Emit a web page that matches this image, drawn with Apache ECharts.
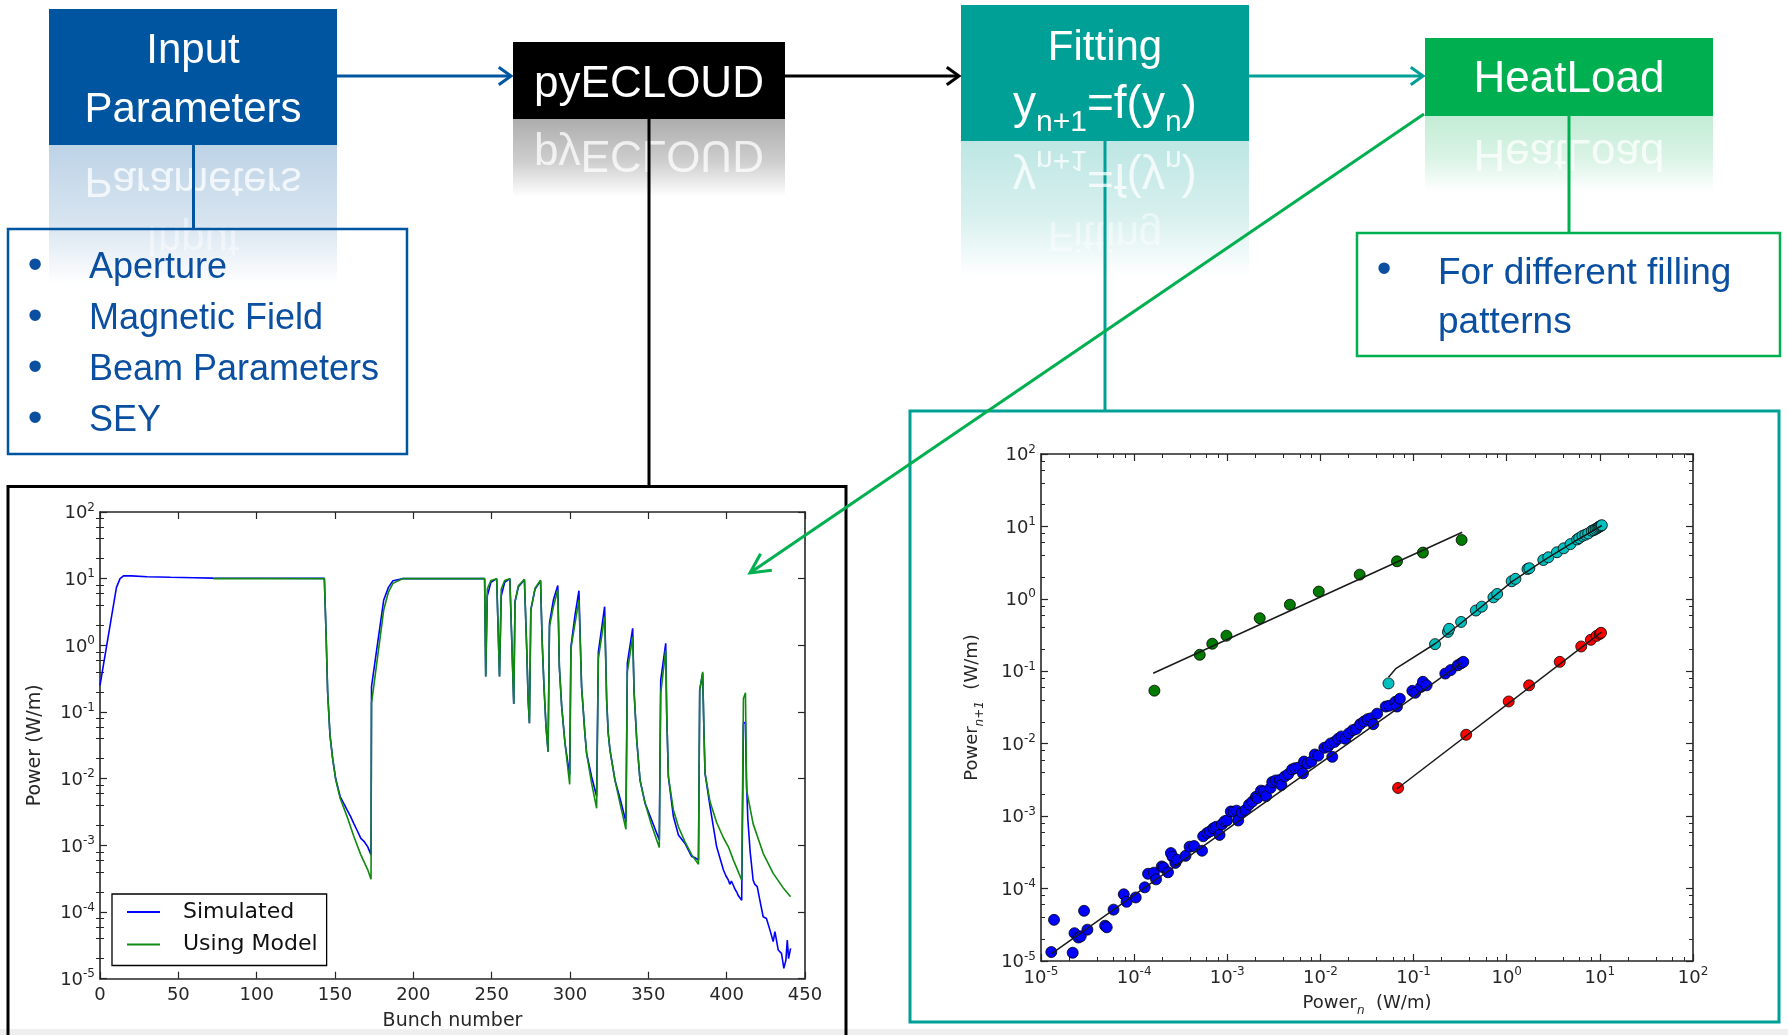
<!DOCTYPE html>
<html><head><meta charset="utf-8">
<script src="https://cdn.jsdelivr.net/npm/echarts@6/dist/echarts.min.js"></script>
<style>html,body{margin:0;padding:0;background:#fff}#c{width:1788px;height:1035px}</style>
</head><body><div id="c"></div>
<script>
// ---------------- Left chart: power vs bunch number ----------------
const simBunch = [0,10.5,12.8,15,20,30,45,60,72,100,143.2,144.3,145.3,146.8,148.5,150.5,153.3,157.7,160,162.1,164,166.5,168.5,170.9,173.0,173.3,177,181.1,184.1,187,193,245.5,246.2,247.2,249.5,253.2,254.4,255.0,256.1,258.3,261.6,262.6,264.1,264.9,267,270.9,271.4,272.4,273.3,274.1,275.0,277.7,281.2,282.2,283.4,284.7,286.0,286.9,289.4,292.2,293.2,294.7,296.8,299.8,300.6,303.2,305.7,307.4,309.5,310.6,313.8,317.0,318.1,320.2,322.1,323.4,324.4,325.5,328.7,331.9,335.7,336.6,340.0,340.9,342.6,344.7,347.9,352.1,357.0,357.9,361.1,361.7,362.8,366.0,369.2,373.4,377.7,380,382.0,382.8,384.7,385.5,386.2,389.4,393.6,397.9,399.5,401.1,402,403,404.3,405.3,406.4,407.5,408.5,409.6,410.7,412.0,412.6,413.5,415,416.9,418,419.5,421.2,423.3,425.4,427.6,429.7,430.8,432.9,435.0,436.5,437.8,438.7,439.5,440.8];
const simPower = [0.25,7.4,10.0,11.0,11.0,10.7,10.5,10.35,10.2,10.15,10.1,1.5,0.2,0.045,0.02,0.0098,0.0054,0.0034,0.0027,0.0021,0.0017,0.00127,0.00115,0.00095,0.00072,0.24,1.0,4.8,7.4,9.3,10.0,10.0,0.34,5.5,8.8,10.0,10.0,0.34,5.5,8.8,10.0,10.0,0.132,4.5,7.5,9.6,9.6,0.85,0.15,0.068,3.4,7.0,9.3,1.2,0.24,0.06,0.0254,2.14,4.8,7.9,0.48,0.12,0.034,0.0113,0.95,2.85,6.6,0.24,0.048,0.024,0.0107,0.0054,0.80,1.8,3.8,0.15,0.048,0.027,0.0095,0.0051,0.00226,0.54,1.8,0.2,0.038,0.0095,0.0043,0.0024,0.0012,0.30,1.07,0.1,0.0107,0.0027,0.00143,0.00107,0.00068,0.00065,0.0006,0.214,0.38,0.05,0.012,0.0038,0.00095,0.00043,0.00035,0.0003,0.00026,0.00029,0.00025,0.00022,0.0002,0.000175,0.00018,0.00015,0.068,0.07,0.01,0.0025,0.0008,0.0003,0.00026,0.00024,0.00015,0.000085,0.00008,0.000054,0.000036,0.000051,0.000027,0.000024,0.0000143,0.000019,0.000038,0.00002,0.0000285];
const modelBunch = [72.3,143.2,144.3,145.3,146.8,148.5,150.5,153.3,157.7,162.1,166.5,170.9,173.0,173.3,177,181.1,184.1,187,193,245.5,246.2,247.2,249.5,253.2,254.4,255.0,256.1,258.3,261.6,262.6,264.1,264.9,267,270.9,271.4,272.4,273.3,274.1,275.0,277.7,281.2,282.2,283.4,284.7,286.0,286.9,289.4,292.2,293.2,294.7,296.8,299.8,300.6,303.2,305.7,307.4,309.5,310.6,313.8,317.0,318.1,320.2,322.1,323.4,324.4,325.5,328.7,331.9,335.7,336.6,340.0,340.9,342.6,344.7,347.9,352.1,357.0,357.9,361.1,361.7,362.8,366.0,369.2,373.4,377.7,382.0,382.8,384.7,385.5,386.2,389.4,393.6,397.9,401.1,404.3,406.4,409.6,410.7,412.0,412.7,416.9,423.3,429.7,436.1,440.8];
const modelPower = [10.0,10.0,1.5,0.2,0.045,0.02,0.0095,0.0051,0.0027,0.00135,0.00072,0.00043,0.00031,0.135,0.62,3.4,6.3,8.5,10.0,10.0,0.34,7.0,9.4,10.0,10.0,0.34,7.0,9.4,10.0,10.0,0.132,4.5,7.8,9.8,9.7,0.85,0.15,0.068,3.4,7.2,9.5,1.2,0.24,0.06,0.0254,1.9,3.8,6.8,0.48,0.12,0.034,0.0082,0.9,2.14,4.8,0.24,0.048,0.024,0.0085,0.0036,0.64,1.35,2.7,0.15,0.048,0.027,0.0095,0.0043,0.00174,0.40,1.35,0.2,0.038,0.0095,0.0043,0.002,0.00093,0.19,0.85,0.1,0.0107,0.0034,0.0019,0.00113,0.00072,0.00052,0.214,0.40,0.05,0.012,0.0045,0.0022,0.0013,0.00095,0.0006,0.00046,0.0003,0.16,0.195,0.0068,0.0021,0.00076,0.00038,0.00023,0.00017];

// ---------------- Right chart: Power_{n+1} vs Power_n ----------------
const greenPn  = [1.65e-4,5.06e-4,6.9e-4,9.8e-4,2.23e-3,4.7e-3,9.6e-3,0.0264,0.0664,0.126,0.328];
const greenPn1 = [0.054,0.169,0.24,0.31,0.54,0.83,1.26,2.16,3.3,4.35,6.5];
const cyanPn  = [0.0538,0.170,0.234,0.241,0.324,0.466,0.540,0.720,0.790,1.13,1.24,1.67,1.75,2.47,2.80,3.46,4.09,4.84,5.70,6.0,6.5,7.0,7.5,8.2,8.6,9.0,9.4,9.7,10.0,10.3,10.5];
const cyanPn1 = [0.068,0.237,0.350,0.386,0.480,0.690,0.780,1.05,1.17,1.75,1.89,2.58,2.65,3.44,3.75,4.40,4.99,5.70,6.60,6.9,7.4,7.7,8.0,8.7,8.9,9.2,9.5,9.8,10.0,10.2,10.4];
const bluePn = [1.29e-5,1.38e-5,2.19e-5,2.29e-5,2.52e-5,2.67e-5,2.90e-5,3.15e-5,4.88e-5,5.08e-5,6.01e-5,7.74e-5,8.30e-5,1.04e-4,1.30e-4,1.41e-4,1.63e-4,1.72e-4,1.98e-4,2.07e-4,2.31e-4,2.48e-4,2.58e-4,2.77e-4,2.89e-4,3.56e-4,3.94e-4,4.40e-4,5.36e-4,5.51e-4,6.07e-4,6.52e-4,7.08e-4,7.60e-4,8.26e-4,8.75e-4,9.38e-4,9.91e-4,1.09e-3,1.17e-3,1.26e-3,1.31e-3,1.43e-3,1.57e-3,1.71e-3,1.86e-3,2.03e-3,2.11e-3,2.30e-3,2.47e-3,2.61e-3,2.92e-3,3.04e-3,3.31e-3,3.65e-3,3.81e-3,4.14e-3,4.51e-3,4.97e-3,5.33e-3,5.87e-3,6.49e-3,6.67e-3,7.26e-3,8.00e-3,8.71e-3,9.46e-3,1.10e-2,1.20e-2,1.29e-2,1.34e-2,1.42e-2,1.55e-2,1.68e-2,1.85e-2,2.02e-2,2.23e-2,2.42e-2,2.67e-2,2.94e-2,3.21e-2,3.48e-2,3.69e-2,4.06e-2,5.02e-2,5.46e-2,6.37e-2,6.64e-2,7.13e-2,9.70e-2,0.104,0.120,0.126,0.138,0.219,0.251,0.298,0.324,0.342];
const bluePn1 = [1.33e-5,3.70e-5,1.30e-5,2.42e-5,2.11e-5,2.19e-5,4.93e-5,2.71e-5,3.07e-5,2.92e-5,5.12e-5,8.34e-5,6.57e-5,7.54e-5,1.04e-4,1.60e-4,1.66e-4,1.34e-4,2.02e-4,1.95e-4,1.68e-4,3.09e-4,2.76e-4,2.26e-4,2.50e-4,2.83e-4,3.78e-4,3.87e-4,3.33e-4,5.28e-4,5.85e-4,6.15e-4,6.79e-4,7.14e-4,5.50e-4,7.69e-4,8.51e-4,8.71e-4,1.16e-3,1.15e-3,1.19e-3,8.71e-4,1.12e-3,1.22e-3,1.44e-3,1.59e-3,1.85e-3,1.78e-3,2.25e-3,2.20e-3,1.89e-3,2.46e-3,2.96e-3,3.11e-3,3.15e-3,2.68e-3,3.53e-3,3.80e-3,4.42e-3,4.59e-3,4.70e-3,3.90e-3,5.67e-3,5.33e-3,5.67e-3,7.10e-3,6.84e-3,8.79e-3,9.12e-3,1.01e-2,6.59e-3,1.06e-2,1.17e-2,1.26e-2,1.17e-2,1.39e-2,1.54e-2,1.60e-2,1.86e-2,2.03e-2,2.18e-2,2.24e-2,1.86e-2,2.60e-2,3.26e-2,3.34e-2,3.79e-2,3.26e-2,4.18e-2,5.37e-2,5.05e-2,6.08e-2,7.16e-2,6.40e-2,9.30e-2,0.104,0.121,0.129,0.135];
const redPn  = [0.0682,0.367,1.05,1.74,3.71,6.31,8.0,9.2,10.0,10.3];
const redPn1 = [2.45e-3,1.33e-2,3.83e-2,6.40e-2,0.135,0.220,0.272,0.308,0.328,0.34];
const greenFitPn = [1.6e-4,0.333],  greenFitPn1 = [0.094,8.3];
const cyanFitPn  = [0.0538,0.065,0.17,0.47,1.13,2.5,5.7,10.5], cyanFitPn1 = [0.083,0.11,0.24,0.68,1.72,3.4,6.5,10.3];
const blueFitPn  = [1.29e-5,0.33], blueFitPn1 = [1.25e-5,0.131];
const redFitPn   = [0.066,10.5],   redFitPn1  = [2.37e-3,0.35];

// ticks
const minorMult = [2,4,6,8];
const decadeExp = [-5,-4,-3,-2,-1,0,1];
const bunchTickStep = 50;

const zip = (a,b) => a.map((v,i)=>[v,b[i]]);
const minorTicks = [];
decadeExp.forEach(d => minorMult.forEach(m => minorTicks.push(+(m*Math.pow(10,d)).toPrecision(3))));

const FF = 'DejaVu Sans';
const FB = 'Liberation Sans';
const AX = '#262626';

function logFmt(v){ const e = Math.round(Math.log10(v)); return '{b|10}{s|' + e + '}'; }
const supRich = {
  b:{fontFamily:FF,fontSize:18,color:AX,verticalAlign:'bottom'},
  s:{fontFamily:FF,fontSize:12,color:AX,verticalAlign:'bottom',padding:[0,0,9,0]}
};
function ax(o){
  return Object.assign({
    type:'log', logBase:10, min:1e-5, max:100, splitNumber:7,
    axisLine:{show:true,onZero:false,lineStyle:{color:AX,width:1.6}},
    axisTick:{show:true,inside:true,length:7,lineStyle:{color:AX,width:1.2}},
    axisLabel:{show:false}, splitLine:{show:false},
    minorTick:{show:false}, minorSplitLine:{show:false}
  }, o);
}
function minorAx(o){
  return ax(Object.assign({
    axisLine:{show:false},
    axisTick:{show:true,inside:true,length:4,customValues:minorTicks,lineStyle:{color:AX,width:1}}
  }, o));
}
const majLabel = (m) => ({show:true, formatter:logFmt, rich:supRich, margin:m});

// ---------------- diagram graphics ----------------
const G = [];
function T(x,y,text,size,color,extra,z){
  return {type:'text', x, y, z: z||6, style:Object.assign({text, fill:color, fontSize:size, fontFamily:FB,
    textAlign:'center', align:'center', textVerticalAlign:'middle', verticalAlign:'middle'}, extra||{})};
}
function L(x1,y1,x2,y2,color,w,z){
  return {type:'line', z:z||4, shape:{x1,y1,x2,y2}, style:{stroke:color, lineWidth:w||3}};
}
function chevron(tx,ty,ux,uy,color,len,ang,z){
  const c=Math.cos(ang), s=Math.sin(ang);
  const a=[tx+len*(ux*c-uy*s), ty+len*(ux*s+uy*c)];
  const b=[tx+len*(ux*c+uy*s), ty+len*(-ux*s+uy*c)];
  return {type:'polyline', z:z||4, shape:{points:[a,[tx,ty],b]}, style:{stroke:color, lineWidth:3, fill:null, lineJoin:'miter'}};
}
const formulaText = '{m|y}{s|n+1}{m|=f(y}{s|n}{m|)}';
function formula(x,y,fill){
  return {type:'text', x, y, z:6, style:{text:formulaText, textAlign:'center', align:'center',
    textVerticalAlign:'bottom', verticalAlign:'bottom', fill,
    rich:{m:{fontSize:46,fontFamily:FB,fill,color:fill,verticalAlign:'bottom',padding:[0,0,10,0]},
          s:{fontSize:30,fontFamily:FB,fill,color:fill,verticalAlign:'bottom'}}}};
}
const boxes = [
  {x:49,y:9,w:288,h:136,color:'#0055A0',rgb:'0,85,160',a:0.26,rh:140,fs:42,lines:[['Input',51.5],['Parameters',110.5]]},
  {x:513,y:42,w:272,h:77,color:'#000000',rgb:'0,0,0',a:0.32,rh:78,fs:44,lines:[['pyECLOUD',84.5]]},
  {x:961,y:5,w:288,h:136,color:'#00A096',rgb:'0,160,150',a:0.26,rh:136,fs:42,lines:[['Fitting',48]],formula:true},
  {x:1425,y:38,w:288,h:78,color:'#00B050',rgb:'0,176,80',a:0.24,rh:76,fs:44,lines:[['HeatLoad',80]]}
];
const FY = 138;
boxes.forEach(b=>{
  const bot=b.y+b.h, cx=b.x+b.w/2;
  G.push({type:'rect', z:1, shape:{x:b.x,y:bot,width:b.w,height:b.rh},
    style:{fill:new echarts.graphic.LinearGradient(0,0,0,1,[
      {offset:0,color:'rgba('+b.rgb+','+b.a+')'},
      {offset:0.55,color:'rgba('+b.rgb+','+(b.a*0.6)+')'},
      {offset:1,color:'rgba('+b.rgb+',0)'}])}});
  const kids=[];
  b.lines.forEach((l,i)=>{
    const op = (b.lines.length-i===1 && !b.formula) ? 0.75 : 0.45;
    kids.push(T(cx,l[1]-bot,l[0],b.fs,'rgba(255,255,255,'+op+')',null,2));
  });
  if(b.formula) kids.push(formula(cx,FY-bot,'rgba(255,255,255,0.75)'));
  G.push({type:'group', x:0, y:bot, scaleY:-1, z:2, children:kids});
  G.push({type:'rect', z:3, shape:{x:b.x,y:b.y,width:b.w,height:b.h}, style:{fill:b.color}});
  b.lines.forEach(l=>G.push(T(cx,l[1],l[0],b.fs,'#ffffff')));
  if(b.formula) G.push(formula(cx,FY,'#ffffff'));
});
// connectors
G.push(L(193.5,145,193.5,229,'#0055A0',3));
G.push(L(649,119,649,487,'#000000',3));
G.push(L(1105,141,1105,411,'#00A096',3));
G.push(L(1569,116,1569,233,'#00B050',3));
G.push(L(337,76,510,76,'#0055A0',3)); G.push(chevron(511,76,-1,0,'#0055A0',15,0.62));
G.push(L(785,76,958,76,'#000000',3)); G.push(chevron(959,76,-1,0,'#000000',15,0.62));
G.push(L(1249,76,1422,76,'#00A096',3)); G.push(chevron(1423,76,-1,0,'#00A096',15,0.62));
// bullet boxes
const TXT = '#0B4FA0';
G.push({type:'rect', z:4, shape:{x:8,y:229,width:399,height:225}, style:{fill:null,stroke:'#0055A0',lineWidth:2.5}});
[['Aperture',268.5],['Magnetic Field',319.5],['Beam Parameters',370.5],['SEY',421.5]].forEach(r=>{
  G.push(T(35,r[1]-2,'\u2022',42,TXT));
  G.push(T(89,r[1],r[0],36,TXT,{textAlign:'left',align:'left'}));
});
G.push({type:'rect', z:4, shape:{x:1357,y:233,width:423,height:123}, style:{fill:null,stroke:'#00B050',lineWidth:2.5}});
G.push(T(1384,270,'\u2022',42,TXT));
G.push(T(1438,274,'For different filling',37,TXT,{textAlign:'left',align:'left'}));
G.push(T(1438,323,'patterns',37,TXT,{textAlign:'left',align:'left'}));
// frames
G.push({type:'rect', z:0, shape:{x:0,y:1029,width:1788,height:6}, style:{fill:'#efefef'}});
G.push({type:'rect', z:4, shape:{x:8,y:486.5,width:838,height:560}, style:{fill:null,stroke:'#000',lineWidth:3}});
G.push({type:'rect', z:4, shape:{x:910,y:411,width:869,height:611}, style:{fill:null,stroke:'#00A096',lineWidth:3}});
// green diagonal arrow
(function(){
  const x1=1424,y1=114,x2=750,y2=573, len=Math.hypot(x1-x2,y1-y2);
  G.push(L(x1,y1,x2+2,y2-1.4,'#00B050',3,20));
  G.push(chevron(x2,y2,(x1-x2)/len,(y1-y2)/len,'#00B050',22,0.47,20));
})();

// ---------------- chart option ----------------
const lineSeries = (name,x,y,color,z) => ({type:'line', name, xAxisIndex:0, yAxisIndex:0, data:zip(x,y),
  showSymbol:false, symbol:'none', clip:true, z, lineStyle:{color,width:1.6}, itemStyle:{color}});
const scat = (x,y,color) => ({type:'scatter', xAxisIndex:2, yAxisIndex:4, data:zip(x,y), symbol:'circle', symbolSize:11, z:3,
  itemStyle:{color, borderColor:'#000', borderWidth:0.8, opacity:1}});
const fit = (x,y) => ({type:'line', xAxisIndex:2, yAxisIndex:4, data:zip(x,y), showSymbol:false, symbol:'none', z:4,
  lineStyle:{color:'#1a1a1a', width:1.5}});
const nameRich = {a:{fontFamily:FF,fontSize:18,color:AX,verticalAlign:'bottom',padding:[0,0,5,0]},
                  s:{fontFamily:FF,fontSize:12,fontStyle:'italic',color:AX,verticalAlign:'bottom'}};

const option = {
  animation:false,
  backgroundColor:'#ffffff',
  graphic:{elements:G},
  grid:[
    {left:100, top:512, width:705, height:466.7, outerBoundsMode:'none', containLabel:false},
    {left:1041, top:454, width:652, height:507, outerBoundsMode:'none', containLabel:false}
  ],
  legend:{
    data:['Simulated','Using Model'], orient:'vertical', left:112, top:894,
    padding:[7,9,10,15], itemGap:10.5, itemWidth:33, itemHeight:2, icon:'rect',
    borderColor:'#000', borderWidth:1.3, backgroundColor:'#fff', borderRadius:0,
    textStyle:{fontFamily:FF, fontSize:22, color:'#111', padding:[0,0,0,18]}
  },
  xAxis:[
    {gridIndex:0, type:'value', min:0, max:450, interval:bunchTickStep, position:'bottom',
     name:'Bunch number', nameLocation:'middle', nameGap:33, nameTextStyle:{fontFamily:FF,fontSize:19,color:AX},
     axisLine:{show:true,onZero:false,lineStyle:{color:AX,width:1.6}},
     axisTick:{show:true,inside:true,length:7,lineStyle:{color:AX,width:1.2}},
     axisLabel:{show:true,fontFamily:FF,fontSize:18,color:AX,margin:8}, splitLine:{show:false}},
    {gridIndex:0, type:'value', min:0, max:450, interval:bunchTickStep, position:'top',
     axisLine:{show:true,onZero:false,lineStyle:{color:AX,width:1.6}},
     axisTick:{show:true,inside:true,length:7,lineStyle:{color:AX,width:1.2}},
     axisLabel:{show:false}, splitLine:{show:false}},
    ax({gridIndex:1, position:'bottom', axisLabel:majLabel(5),
      name:'{a|Power}{s|n}{a|  (W/m)}', nameLocation:'middle', nameGap:33, nameTextStyle:{rich:nameRich}}),
    ax({gridIndex:1, position:'top'}),
    minorAx({gridIndex:1, position:'bottom'}),
    minorAx({gridIndex:1, position:'top'})
  ],
  yAxis:[
    ax({gridIndex:0, position:'left', axisLabel:majLabel(5),
      name:'Power (W/m)', nameLocation:'middle', nameGap:55, nameTextStyle:{fontFamily:FF,fontSize:19,color:AX}}),
    ax({gridIndex:0, position:'right'}),
    minorAx({gridIndex:0, position:'left'}),
    minorAx({gridIndex:0, position:'right'}),
    ax({gridIndex:1, position:'left', axisLabel:majLabel(5),
      name:'{a|Power}{s|n+1}{a|  (W/m)}', nameLocation:'middle', nameGap:55, nameTextStyle:{rich:nameRich}}),
    ax({gridIndex:1, position:'right'}),
    minorAx({gridIndex:1, position:'left'}),
    minorAx({gridIndex:1, position:'right'})
  ],
  series:[
    lineSeries('Simulated', simBunch, simPower, '#0000ff', 2),
    lineSeries('Using Model', modelBunch, modelPower, '#108a10', 3),
    scat(bluePn, bluePn1, '#0000ff'),
    scat(greenPn, greenPn1, '#007a00'),
    scat(cyanPn, cyanPn1, '#00bfbf'),
    scat(redPn, redPn1, '#ff0000'),
    fit(greenFitPn, greenFitPn1),
    fit(cyanFitPn, cyanFitPn1),
    fit(blueFitPn, blueFitPn1),
    fit(redFitPn, redFitPn1)
  ]
};
const chart = echarts.init(document.getElementById('c'), null, {renderer:'canvas', width:1788, height:1035});
chart.setOption(option);
</script></body></html>
